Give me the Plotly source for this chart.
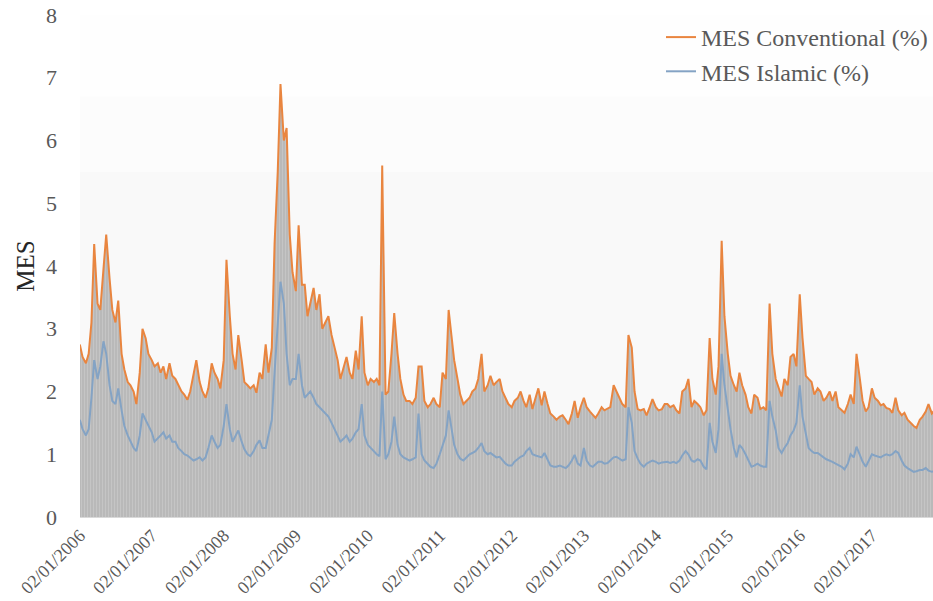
import plotly.graph_objects as go
import pandas as pd

# semi-monthly observations, 2006-01 .. 2017-12 (24 per year)
dates = pd.date_range("2006-01-01", periods=288, freq="SMS")

mes_conventional = [
    # 2006
    2.75, 2.55, 2.45, 2.6, 3.1, 4.35, 3.4, 3.3, 3.95, 4.5, 3.8, 3.3,
    3.1, 3.45, 2.6, 2.35, 2.15, 2.1, 2.0, 1.8, 2.3, 3.0, 2.85, 2.6,
    # 2007
    2.5, 2.4, 2.45, 2.3, 2.4, 2.2, 2.45, 2.25, 2.2, 2.1, 2.0, 1.95,
    1.87, 2.0, 2.3, 2.5, 2.15, 2.0, 1.9, 2.05, 2.45, 2.3, 2.2, 2.05,
    # 2008
    2.5, 4.1, 3.2, 2.6, 2.35, 2.9, 2.5, 2.15, 2.1, 2.05, 2.1, 1.98,
    2.3, 2.2, 2.75, 2.3, 2.7, 4.35, 5.5, 6.9, 6.0, 6.2, 4.5, 3.9,
    # 2009
    3.6, 4.65, 3.7, 3.7, 3.2, 3.4, 3.65, 3.3, 3.55, 3.0, 3.1, 3.2,
    2.9, 2.7, 2.5, 2.2, 2.4, 2.55, 2.3, 2.2, 2.65, 2.35, 3.2, 2.3,
    # 2010
    2.1, 2.2, 2.15, 2.2, 2.1, 5.6, 1.95, 2.0, 2.6, 3.25, 2.6, 2.2,
    1.95, 1.85, 1.85, 1.8, 1.9, 2.4, 2.4, 1.85, 1.75, 1.8, 1.9, 1.8,
    # 2011
    1.75, 2.3, 2.2, 3.3, 2.9, 2.5, 2.2, 1.95, 1.8, 1.85, 1.9, 2.0,
    2.05, 2.2, 2.6, 2.0, 2.1, 2.25, 2.1, 2.15, 2.2, 2.0, 1.9, 1.8,
    # 2012
    1.75, 1.85, 1.9, 2.0, 1.85, 1.75, 1.95, 1.72, 1.9, 2.05, 1.78, 2.0,
    1.8, 1.65, 1.6, 1.55, 1.6, 1.62, 1.55, 1.48, 1.65, 1.85, 1.58, 1.75,
    # 2013
    1.9, 1.75, 1.68, 1.62, 1.58, 1.65, 1.75, 1.7, 1.72, 1.75, 2.1, 2.0,
    1.88, 1.8, 1.75, 2.9, 2.7, 2.0, 1.72, 1.7, 1.72, 1.62, 1.75, 1.88,
    # 2014
    1.75, 1.7, 1.72, 1.8, 1.8, 1.75, 1.78, 1.7, 1.65, 2.0, 2.05, 2.2,
    1.75, 1.85, 1.8, 1.75, 1.62, 1.7, 2.85, 2.2, 1.95, 2.4, 4.4, 3.2,
    # 2015
    2.6, 2.25, 2.1, 2.0, 2.3, 2.1, 1.95, 1.75, 1.65, 1.95, 1.9, 1.72,
    1.75, 1.7, 3.4, 2.6, 2.2, 2.05, 1.92, 2.2, 2.1, 2.55, 2.6, 2.4,
    # 2016
    3.55, 2.85, 2.25, 2.2, 2.15, 1.95, 2.05, 2.0, 1.85, 1.9, 2.0, 1.85,
    2.0, 1.75, 1.7, 1.66, 1.8, 1.95, 1.8, 2.6, 2.2, 1.85, 1.68, 1.75,
    # 2017
    2.05, 1.9, 1.85, 1.78, 1.8, 1.74, 1.72, 1.66, 1.9, 1.7, 1.62, 1.66,
    1.55, 1.5, 1.45, 1.42, 1.55, 1.6, 1.68, 1.8, 1.65, 1.7, 1.65, 1.68,
]

mes_islamic = [
    # 2006
    1.55, 1.4, 1.3, 1.4, 1.9, 2.5, 2.2, 2.4, 2.8, 2.6, 2.1, 1.85,
    1.8, 2.05, 1.7, 1.45, 1.3, 1.2, 1.1, 1.05, 1.3, 1.65, 1.55, 1.45,
    # 2007
    1.35, 1.2, 1.25, 1.3, 1.35, 1.25, 1.3, 1.2, 1.2, 1.1, 1.05, 1.0,
    0.98, 0.95, 0.9, 0.92, 0.95, 0.9, 0.95, 1.1, 1.3, 1.2, 1.1, 1.15,
    # 2008
    1.45, 1.8, 1.4, 1.2, 1.3, 1.38, 1.2, 1.08, 1.0, 0.97, 1.05, 1.15,
    1.22, 1.1, 1.1, 1.3, 1.55, 2.3, 3.0, 3.75, 3.4, 2.6, 2.1, 2.2,
    # 2009
    2.2, 2.6, 2.1, 1.9, 1.95, 2.0, 1.9, 1.8, 1.75, 1.7, 1.65, 1.6,
    1.5, 1.4, 1.3, 1.2, 1.25, 1.3, 1.2, 1.25, 1.35, 1.4, 1.8, 1.3,
    # 2010
    1.15, 1.1, 1.05, 1.0, 0.97, 2.0, 0.92, 1.0, 1.2, 1.6, 1.15, 1.0,
    0.95, 0.93, 0.9, 0.92, 0.95, 1.65, 1.0, 0.9, 0.85, 0.8, 0.78, 0.85,
    # 2011
    1.0, 1.12, 1.3, 1.7, 1.4, 1.15, 1.0, 0.93, 0.9, 0.95, 1.0, 1.02,
    1.05, 1.1, 1.18, 1.05, 1.0, 1.02, 0.98, 0.95, 0.96, 0.9, 0.85, 0.82,
    # 2012
    0.82, 0.88, 0.92, 0.96, 0.98, 1.05, 1.1, 1.0, 0.98, 0.97, 0.95, 1.02,
    0.9, 0.82, 0.8, 0.8, 0.82, 0.8, 0.78, 0.82, 0.9, 0.99, 0.85, 0.82,
    # 2013
    1.1, 0.9, 0.82, 0.8, 0.84, 0.88, 0.88, 0.85, 0.86, 0.9, 0.95, 0.96,
    0.92, 0.9, 0.92, 1.75, 1.5, 1.05, 0.93, 0.85, 0.8, 0.85, 0.88, 0.9,
    # 2014
    0.88, 0.85, 0.87, 0.88, 0.88, 0.86, 0.88, 0.86, 0.9, 0.98, 1.05, 1.0,
    0.9, 0.88, 0.92, 0.9, 0.8, 0.76, 1.5, 1.2, 1.02, 1.4, 2.6, 2.1,
    # 2015
    1.7, 1.4, 1.1, 0.95, 1.15, 1.1, 1.0, 0.9, 0.8, 0.82, 0.85, 0.82,
    0.8, 0.8, 1.85, 1.6, 1.38, 1.1, 1.02, 1.1, 1.18, 1.3, 1.38, 1.5,
    # 2016
    2.1, 1.6, 1.35, 1.1, 1.05, 1.02, 1.02, 0.98, 0.95, 0.92, 0.9, 0.88,
    0.85, 0.83, 0.8, 0.76, 0.85, 1.0, 0.95, 1.12, 1.0, 0.88, 0.8, 0.9,
    # 2017
    1.0, 0.98, 0.96, 0.95, 0.98, 1.0, 0.98, 1.0, 1.05, 1.02, 0.9, 0.82,
    0.78, 0.75, 0.72, 0.73, 0.75, 0.75, 0.78, 0.74, 0.72, 0.73, 0.75, 0.74,
]

tick_dates = [f"{y}-01-02" for y in range(2006, 2018)]
tick_labels = [f"02/01/{y}" for y in range(2006, 2018)]

serif = "Liberation Serif"
grey_text = "#595959"

fig = go.Figure()

# grey shaded area under the conventional series
fig.add_trace(go.Scatter(
    x=dates, y=mes_conventional, mode="none", fill="tozeroy",
    fillcolor="#bdbdbd",
    fillpattern=dict(shape="|", fgcolor="#d2d2d2", bgcolor="#b9b9b9",
                     size=3, solidity=0.35),
    showlegend=False, hoverinfo="skip",
))

fig.add_trace(go.Scatter(
    x=dates, y=mes_conventional, mode="lines", name="MES Conventional (%)",
    line=dict(color="#e9853f", width=2),
))
fig.add_trace(go.Scatter(
    x=dates, y=mes_islamic, mode="lines", name="MES Islamic (%)",
    line=dict(color="#84a3c4", width=2),
))

# faint gradient of the plot background
for y0, y1, col in [(0, 5.5, "#f9f9f9"), (5.5, 6.7, "#fcfcfc"), (6.7, 8, "#fefefe")]:
    fig.add_shape(type="rect", xref="paper", yref="y", x0=0, x1=1, y0=y0, y1=y1,
                  fillcolor=col, line_width=0, layer="below")

fig.update_layout(
    width=933, height=601,
    margin=dict(l=80, r=0, t=15, b=84, autoexpand=False),
    plot_bgcolor="white", paper_bgcolor="white",
    font=dict(family=serif, color=grey_text),
    legend=dict(x=1.0, xanchor="right", y=1.0, yanchor="top",
                font=dict(family=serif, size=24, color=grey_text),
                bgcolor="rgba(0,0,0,0)", tracegroupgap=0, itemwidth=30),
    showlegend=True,
)

fig.update_xaxes(
    type="date", range=["2006-01-02", "2017-11-07"], automargin=False,
    tickvals=tick_dates, ticktext=tick_labels, tickangle=-45,
    tickfont=dict(family=serif, size=18, color=grey_text),
    showgrid=False, zeroline=False, showline=True, linecolor="#d9d9d9",
    ticks="",
)
fig.update_yaxes(
    range=[0, 8], dtick=1, showgrid=False, zeroline=False, automargin=False,
    tickfont=dict(family=serif, size=22, color=grey_text), ticklabelstandoff=22,
    title=dict(text="MES", font=dict(family=serif, size=25, color="#262626"),
               standoff=4),
)

fig.write_html("out.html", config={"displayModeBar": False},
               post_script="document.body.style.margin='0px';")
